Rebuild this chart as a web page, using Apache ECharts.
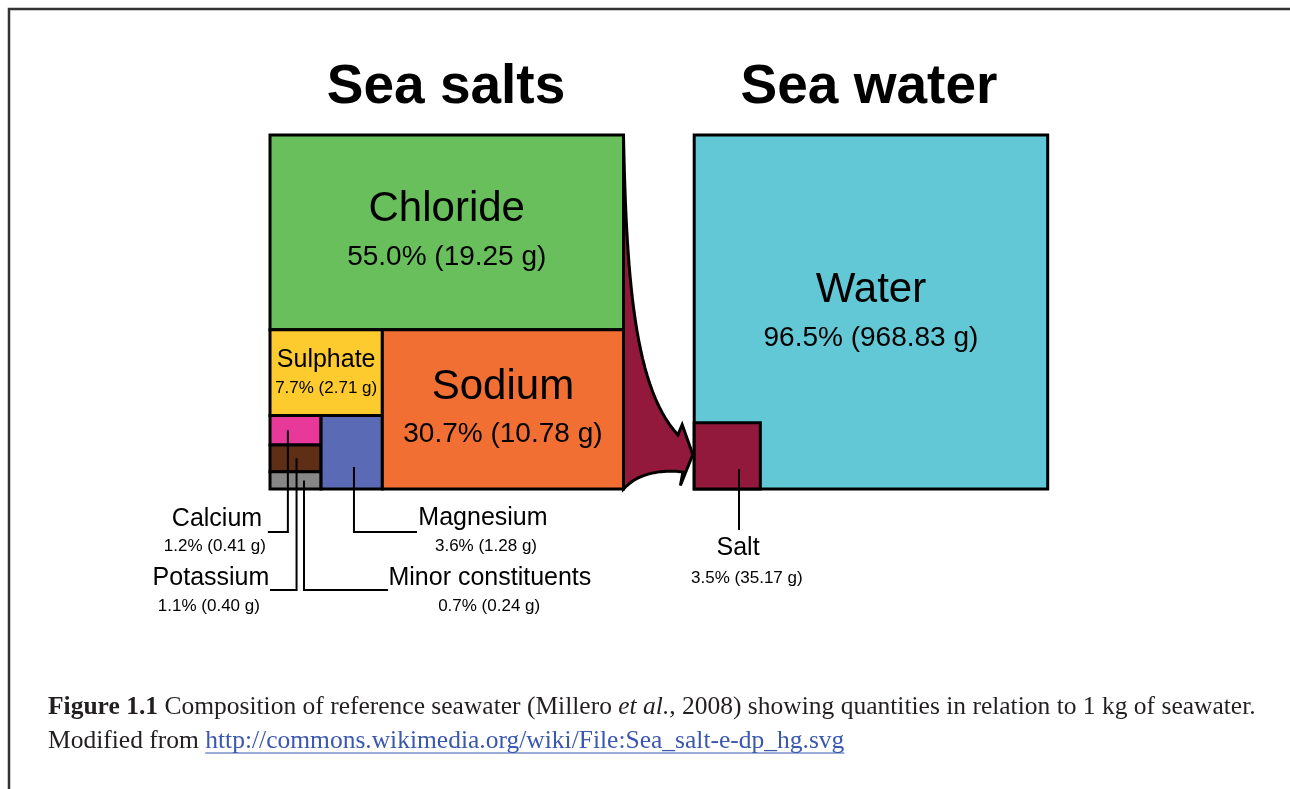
<!DOCTYPE html>
<html>
<head>
<meta charset="utf-8">
<title>Sea salts / Sea water</title>
<script src="https://cdn.jsdelivr.net/npm/echarts@6/dist/echarts.min.js"></script>
<style>
html, body { margin: 0; padding: 0; background: #fff; }
#main { width: 1290px; height: 789px; }
</style>
</head>
<body>
<div id="main"></div>
<script>
// composition of 1 kg of reference seawater
const saltNames = ['Chloride', 'Sodium', 'Sulphate', 'Magnesium', 'Calcium', 'Potassium', 'Minor constituents'];
const saltPercent = [55.0, 30.7, 7.7, 3.6, 1.2, 1.1, 0.7];
const saltGrams = [19.25, 10.78, 2.71, 1.28, 0.41, 0.40, 0.24];
const waterNames = ['Water', 'Salt'];
const waterPercent = [96.5, 3.5];
const waterGrams = [968.83, 35.17];

const colors = {
  'Chloride': '#69bf5b', 'Sodium': '#f26f33', 'Sulphate': '#fecb2e', 'Magnesium': '#5a6ab4',
  'Calcium': '#e8389a', 'Potassium': '#5e2f14', 'Minor constituents': '#878787',
  'Water': '#63c8d6', 'Salt': '#92193c'
};

// how the salt square is cut: split top/bottom, then left/right, alternating
const saltTree = ['Chloride', [['Sulphate', [['Calcium', 'Potassium', 'Minor constituents'], 'Magnesium']], 'Sodium']];
const waterOffset = 1.2; // second square starts 0.2 side-lengths to the right

const FONT = '"Liberation Sans", Arial, sans-serif';
const SERIF = '"Liberation Serif", "Times New Roman", serif';
const CAP_SIZE = 25.5;

const innerLabels = {
  'Chloride': { nameSize: 42, valueSize: 28, nameDy: -23, valueDy: 25 },
  'Sodium': { nameSize: 42, valueSize: 28, nameDy: -22, valueDy: 25 },
  'Sulphate': { nameSize: 25, valueSize: 17, nameDy: -12, valueDy: 16 },
  'Water': { nameSize: 42, valueSize: 28, nameDy: -22, valueDy: 26 }
};

const callouts = [
  { name: 'Calcium', fx: 0.35, fy: 0.5, elbowY: 1.1215, endX: -0.006, nameAt: [-0.150, 1.085], valueAt: [-0.156, 1.163] },
  { name: 'Potassium', fx: 0.52, fy: 0.5, elbowY: 1.2853, endX: 0.0, nameAt: [-0.167, 1.252], valueAt: [-0.173, 1.330] },
  { name: 'Minor constituents', fx: 0.666, fy: 0.5, elbowY: 1.2853, endX: 0.334, nameAt: [0.622, 1.252], valueAt: [0.620, 1.330] },
  { name: 'Magnesium', fx: 0.537, fy: 0.70, elbowY: 1.1215, endX: 0.416, nameAt: [0.6025, 1.082], valueAt: [0.611, 1.163] },
  { name: 'Salt', fx: 0.677, fy: 0.70, elbowY: 1.116, endX: null, nameAt: [1.324, 1.167], valueAt: [1.349, 1.251] }
];

function pctOf(name) {
  const i = saltNames.indexOf(name);
  return i >= 0 ? saltPercent[i] : waterPercent[waterNames.indexOf(name)];
}
function gramsOf(name) {
  const i = saltNames.indexOf(name);
  return i >= 0 ? saltGrams[i] : waterGrams[waterNames.indexOf(name)];
}
function fmt(name) {
  return pctOf(name).toFixed(1) + '% (' + gramsOf(name).toFixed(2) + ' g)';
}
function sumOf(node) {
  return typeof node === 'string' ? pctOf(node) : node.reduce((s, n) => s + sumOf(n), 0);
}
function slice(node, x0, y0, x1, y1, depth, out) {
  if (typeof node === 'string') { out.push({ name: node, x0, y0, x1, y1 }); return; }
  const total = sumOf(node);
  let pos = depth % 2 === 0 ? y0 : x0;
  node.forEach(child => {
    const f = sumOf(child) / total;
    if (depth % 2 === 0) {
      const h = (y1 - y0) * f;
      slice(child, x0, pos, x1, pos + h, depth + 1, out);
      pos += h;
    } else {
      const w = (x1 - x0) * f;
      slice(child, pos, y0, pos + w, y1, depth + 1, out);
      pos += w;
    }
  });
}

const cells = [];
slice(saltTree, 0, 0, 1, 1, 0, cells);
// sea water square: whole square is water, salt is a small square in the corner
cells.push({ name: 'Water', x0: waterOffset, y0: 0, x1: waterOffset + 1, y1: 1 });
const saltSide = Math.sqrt(waterPercent[1] / 100);
cells.push({ name: 'Salt', x0: waterOffset, y0: 1 - saltSide, x1: waterOffset + saltSide, y1: 1 });

function cellByName(n) { return cells.find(c => c.name === n); }

function renderCell(params, api) {
  const c = cells[params.dataIndex];
  const p0 = api.coord([api.value(0), api.value(1)]);
  const p1 = api.coord([api.value(2), api.value(3)]);
  const children = [{
    type: 'rect',
    shape: { x: p0[0], y: p0[1], width: p1[0] - p0[0], height: p1[1] - p0[1] },
    style: { fill: colors[c.name], stroke: '#000', lineWidth: 3 }
  }];
  const lab = innerLabels[c.name];
  if (lab) {
    const cx = (p0[0] + p1[0]) / 2, cy = (p0[1] + p1[1]) / 2;
    children.push({ type: 'text', x: cx, y: cy + lab.nameDy,
      style: { text: c.name, font: lab.nameSize + 'px ' + FONT, fill: '#000', align: 'center', verticalAlign: 'middle' } });
    children.push({ type: 'text', x: cx, y: cy + lab.valueDy,
      style: { text: fmt(c.name), font: lab.valueSize + 'px ' + FONT, fill: '#000', align: 'center', verticalAlign: 'middle' } });
  }
  return { type: 'group', children };
}

function renderCallout(params, api) {
  const o = callouts[params.dataIndex];
  const lx = api.value(0), ly = api.value(1);
  const pts = [[lx, ly], [lx, o.elbowY]];
  if (o.endX !== null) pts.push([o.endX, o.elbowY]);
  return {
    type: 'group',
    children: [
      { type: 'polyline', shape: { points: pts.map(p => api.coord(p)) },
        style: { stroke: '#000', lineWidth: 2, fill: null } },
      { type: 'text', position: api.coord(o.nameAt),
        style: { text: o.name, font: '25px ' + FONT, fill: '#000', align: 'center', verticalAlign: 'middle' } },
      { type: 'text', position: api.coord(o.valueAt),
        style: { text: fmt(o.name), font: '17px ' + FONT, fill: '#000', align: 'center', verticalAlign: 'middle' } }
    ]
  };
}

function bezier(a, b, c, d, n) {
  const out = [];
  for (let i = 1; i <= n; i++) {
    const t = i / n, u = 1 - t;
    out.push([
      u * u * u * a[0] + 3 * u * u * t * b[0] + 3 * u * t * t * c[0] + t * t * t * d[0],
      u * u * u * a[1] + 3 * u * u * t * b[1] + 3 * u * t * t * c[1] + t * t * t * d[1]
    ]);
  }
  return out;
}

// curved arrow from the salt square to the salt cell
function renderArrow(params, api) {
  const sx = api.value(0);          // right edge of sea salts square
  const salt = cellByName('Salt');
  const tip = [salt.x0 - 0.004, (salt.y0 + salt.y1) / 2 - 0.004];
  let pts = [[sx, 0]];
  pts = pts.concat(bezier([sx, 0], [sx + 0.008, 0.400], [sx + 0.030, 0.715], [sx + 0.154, 0.847], 30));
  pts.push([sx + 0.166, 0.818]);
  pts.push(tip);
  pts.push([sx + 0.161, 0.990]);
  pts.push([sx + 0.168, 0.952]);
  pts = pts.concat(bezier([sx + 0.168, 0.952], [sx + 0.110, 0.944], [sx + 0.042, 0.955], [sx + 0.003, 0.997], 20));
  pts.push([sx, 1]);
  return {
    type: 'polygon',
    shape: { points: pts.map(p => api.coord(p)) },
    style: { fill: colors['Salt'], stroke: '#000', lineWidth: 3, lineJoin: 'miter', miterLimit: 3 }
  };
}

const chart = echarts.init(document.getElementById('main'), null, { renderer: 'canvas' });

// underline width for the link
const ctx = document.createElement('canvas').getContext('2d');
ctx.font = CAP_SIZE + 'px ' + SERIF;
const prefixW = ctx.measureText('Modified from ').width;
const linkText = 'http://commons.wikimedia.org/wiki/File:Sea_salt-e-dp_hg.svg';
const linkW = ctx.measureText(linkText).width;
const capX = 48;

const option = {
  animation: false,
  backgroundColor: '#fff',
  grid: { left: 270, top: 135, width: 777.7, height: 354 },
  xAxis: { type: 'value', min: 0, max: 2.2, show: false },
  yAxis: { type: 'value', min: 0, max: 1, inverse: true, show: false },
  graphic: [
    { type: 'polyline', shape: { points: [[9, 789], [9, 9], [1290, 9]] }, style: { stroke: '#333', lineWidth: 2.5, fill: null } },
    { type: 'text', x: 446, y: 88, style: { text: 'Sea salts', font: 'bold 55px ' + FONT, fill: '#000', align: 'center', verticalAlign: 'middle' } },
    { type: 'text', x: 869, y: 88, style: { text: 'Sea water', font: 'bold 55px ' + FONT, fill: '#000', align: 'center', verticalAlign: 'middle' } },
    { type: 'text', x: capX, y: 707.5, style: {
        text: '{b|Figure 1.1} Composition of reference seawater (Millero {i|et al.}, 2008) showing quantities in relation to 1 kg of seawater.',
        font: CAP_SIZE + 'px ' + SERIF, fill: '#231f20', verticalAlign: 'middle',
        rich: {
          b: { fontWeight: 'bold', fontSize: CAP_SIZE, fontFamily: SERIF, fill: '#231f20' },
          i: { fontStyle: 'italic', fontSize: CAP_SIZE, fontFamily: SERIF, fill: '#231f20' }
        } } },
    { type: 'text', x: capX, y: 741, style: {
        text: 'Modified from {a|' + linkText + '}',
        font: CAP_SIZE + 'px ' + SERIF, fill: '#231f20', verticalAlign: 'middle',
        rich: { a: { fontSize: CAP_SIZE, fontFamily: SERIF, fill: '#3b58b0' } } } },
    { type: 'line', shape: { x1: capX + prefixW, y1: 753, x2: capX + prefixW + linkW, y2: 753 }, style: { stroke: '#3b58b0', lineWidth: 1.2 } }
  ],
  series: [
    {
      type: 'custom', z: 1,
      renderItem: renderArrow,
      data: [[1, 0]],
      encode: { x: 0, y: 1 }
    },
    {
      type: 'custom', z: 2,
      renderItem: renderCell,
      data: cells.map(c => [c.x0, c.y0, c.x1, c.y1]),
      encode: { x: [0, 2], y: [1, 3] }
    },
    {
      type: 'custom', z: 3,
      renderItem: renderCallout,
      data: callouts.map(o => {
        const c = cellByName(o.name);
        return [c.x0 + (c.x1 - c.x0) * o.fx, c.y0 + (c.y1 - c.y0) * o.fy];
      }),
      encode: { x: 0, y: 1 }
    }
  ]
};

chart.setOption(option);
window.addEventListener('resize', function () { chart.resize(); });
</script>
</body>
</html>
